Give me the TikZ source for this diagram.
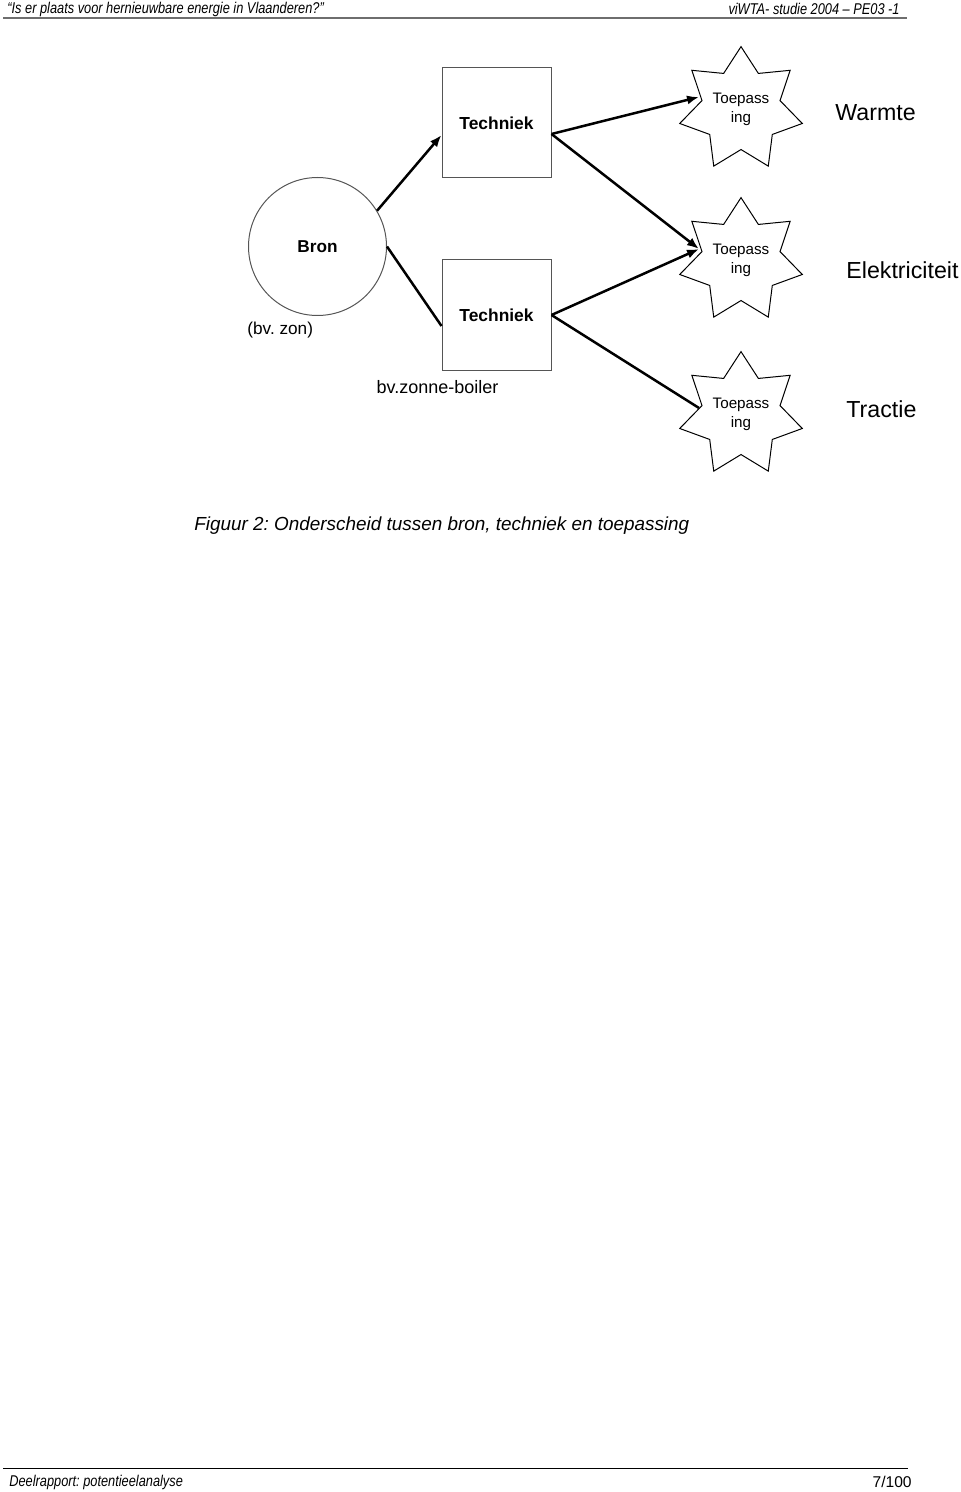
\documentclass[tikz,border=0pt]{standalone}
\usepackage{fontspec}
\setmainfont{Liberation Sans}
\newfontfamily\narrowfont[FakeStretch=0.82]{Liberation Sans}
\usetikzlibrary{arrows.meta,positioning,shapes.geometric}
\definecolor{randgrijs}{RGB}{85,85,85}
\definecolor{lijngrijs}{RGB}{110,110,110}
\tikzstyle{bron}=[draw=randgrijs, circle, line width=0.5pt, minimum size=69pt, inner sep=0pt, font=\bfseries\fontsize{8.6}{10}\selectfont]
\tikzstyle{tech}=[draw=randgrijs, rectangle, line width=0.5pt, minimum width=54.5pt, minimum height=55pt, font=\bfseries\fontsize{8.7}{10}\selectfont]
\tikzstyle{toep}=[draw, star, star points=7, star point ratio=1.57, minimum size=60.5pt, inner sep=0pt, line width=0.5pt, align=center, font=\fontsize{7.6}{9.5}\selectfont]
\tikzstyle{soort}=[anchor=west, inner sep=0pt, font=\fontsize{11.6}{13}\selectfont]
\tikzstyle{noot}=[inner sep=0pt, font=\fontsize{8.6}{10}\selectfont]
\tikzstyle{kop}=[inner sep=0pt, font=\narrowfont\itshape\fontsize{7.8}{9}\selectfont]
\tikzstyle{pijl}=[line width=1.25pt]
\frenchspacing
\begin{document}
\begin{tikzpicture}[x=0.5pt,y=-0.5pt,>={Latex[length=6pt,width=4.6pt]}]
    \useasboundingbox (0,0) rectangle (960,1492);
    % kop en voet van de bladzijde
    \node [kop, anchor=west] (titel) at (7,9) {“Is er plaats voor hernieuwbare energie in Vlaanderen?”};
    \node [kop, anchor=east] (studie) at (900,9) {viWTA- studie 2004 – PE03 -1};
    \draw [lijngrijs, line width=1pt] (3,18) -- (907,18);
    \draw [line width=0.5pt] (3,1468) -- (908,1468);
    \node [kop, anchor=west] (rapport) at (9,1482) {Deelrapport: potentieelanalyse};
    \node [anchor=east, inner sep=0pt, font=\fontsize{7.8}{9}\selectfont] (blz) at (912,1482) {7/100};
    % figuur
    \node [bron] (b) at (317.5,246.5) {Bron};
    \node [noot, anchor=west] (bvzon) at (247,330) {(bv. zon)};
    \node [tech] (t1) at (496.5,123) {Techniek};
    \node [tech] (t2) [below of=t1, node distance=96pt] {Techniek};
    \node [noot, font=\fontsize{9}{10}\selectfont] (boiler) at (437.5,387) {bv.zonne-boiler};
    \node [toep] (s1) at (741,109.5) {Toepass\\ing};
    \node [toep] (s2) [below of=s1, node distance=75.5pt] {Toepass\\ing};
    \node [toep] (s3) [below of=s2, node distance=77pt] {Toepass\\ing};
    \node [soort] (warmte) at (835,113) {Warmte};
    \node [soort] (elek) at (846,270) {Elektriciteit};
    \node [soort] (tractie) at (846,409) {Tractie};
    \node [anchor=west, inner sep=0pt, font=\itshape\fontsize{9.45}{11}\selectfont] (fig) at (194,526) {Figuur 2: Onderscheid tussen bron, techniek en toepassing};
    \path [pijl]
    (b.31) edge [->] ([yshift=-6pt]t1.west)
    (b.east) edge ([yshift=-5.5pt]t2.west)
    ([yshift=-5.5pt]t1.east) edge [->] ([shift={(-21pt,6.25pt)}]s1.center)
    ([yshift=-5.5pt]t1.east) edge [->] ([shift={(-21pt,5.75pt)}]s2.center)
    (t2.east) edge [->] ([shift={(-21pt,5.75pt)}]s2.center)
    (t2.east) edge ([shift={(-21pt,3.25pt)}]s3.center);
\end{tikzpicture}
\end{document}
